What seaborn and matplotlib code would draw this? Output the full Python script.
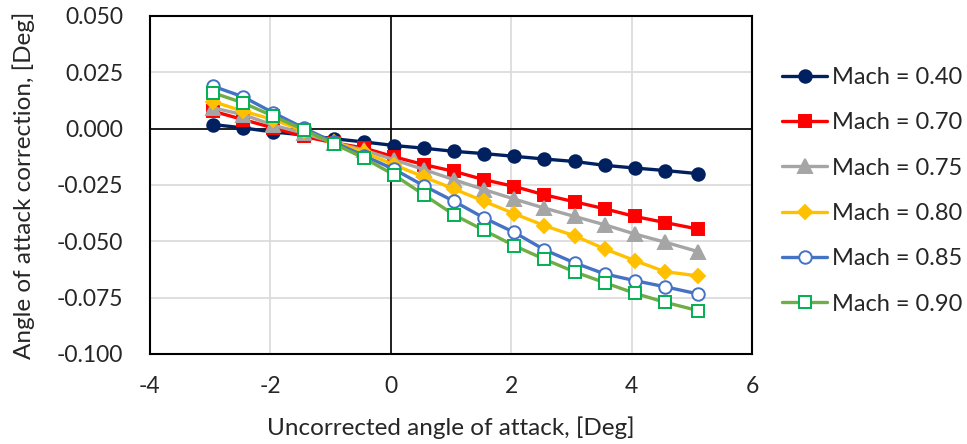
import pandas as pd
import matplotlib
matplotlib.use("Agg")
import matplotlib.pyplot as plt
import seaborn as sns

# uncorrected angle of attack [deg]
alpha = [-2.95, -2.45, -1.95, -1.45, -0.95, -0.45, 0.05, 0.55, 1.05,
         1.55, 2.05, 2.55, 3.05, 3.55, 4.05, 4.55, 5.1]

# angle of attack correction [deg], one list per Mach number
m040 = [0.0018, 0.0003, -0.0015, -0.0028, -0.0045, -0.0059, -0.0075, -0.0087, -0.0101,
        -0.0111, -0.0123, -0.0135, -0.0146, -0.0163, -0.0175, -0.0186, -0.0200]
m070 = [0.0077, 0.0040, 0.0003, -0.0034, -0.0063, -0.0086, -0.0125, -0.0160, -0.0190,
        -0.0227, -0.0257, -0.0294, -0.0325, -0.0356, -0.0390, -0.0417, -0.0446]
m075 = [0.0092, 0.0062, 0.0015, -0.0020, -0.0062, -0.0095, -0.0138, -0.0182, -0.0227,
        -0.0271, -0.0313, -0.0353, -0.0390, -0.0427, -0.0468, -0.0504, -0.0546]
m080 = [0.0120, 0.0077, 0.0040, -0.0010, -0.0058, -0.0105, -0.0160, -0.0215, -0.0268,
        -0.0323, -0.0378, -0.0431, -0.0476, -0.0534, -0.0586, -0.0635, -0.0654]
m085 = [0.0188, 0.0141, 0.0070, 0.0003, -0.0060, -0.0120, -0.0180, -0.0254, -0.0323,
        -0.0397, -0.0461, -0.0538, -0.0596, -0.0645, -0.0675, -0.0702, -0.0734]
m090 = [0.0159, 0.0114, 0.0055, -0.0004, -0.0067, -0.0130, -0.0205, -0.0294, -0.0383,
        -0.0452, -0.0520, -0.0580, -0.0636, -0.0684, -0.0731, -0.0771, -0.0808]

labels = ["Mach = 0.40", "Mach = 0.70", "Mach = 0.75",
          "Mach = 0.80", "Mach = 0.85", "Mach = 0.90"]

xticks = [-4, -2, 0, 2, 4, 6]
yticks = [-0.1, -0.075, -0.05, -0.025, 0.0, 0.025, 0.05]

sns.set_style("white")
plt.rcParams['font.family'] = ['Lato', 'DejaVu Sans']
plt.rcParams['axes.unicode_minus'] = False

fig = plt.figure(figsize=(9.67, 4.44), dpi=100)
ax = fig.add_axes([0.155, 0.203, 0.623, 0.761])

# (line colour, marker, marker face, marker edge, marker size)
styles = [
    ("#002060", "o", "#002060", "#002060", 9),
    ("#FF0000", "s", "#FF0000", "#FF0000", 9),
    ("#A5A5A5", "^", "#A5A5A5", "#A5A5A5", 9.5),
    ("#FFC000", "D", "#FFC000", "#FFC000", 7),
    ("#4472C4", "o", "white", "#4472C4", 9),
    ("#70AD47", "s", "white", "#00B050", 9),
]

for vals, lab, (c, m, fc, ec, ms) in zip([m040, m070, m075, m080, m085, m090], labels, styles):
    df = pd.DataFrame({"alpha": alpha, "corr": vals})
    sns.lineplot(data=df, x="alpha", y="corr", ax=ax, color=c, lw=2.4,
                 marker=m, markersize=ms, markerfacecolor=fc,
                 markeredgecolor=ec, markeredgewidth=1.4, label=lab, zorder=3)

ax.set_xlim(-4, 6)
ax.set_ylim(-0.1, 0.05)
ax.set_xticks(xticks)
ax.set_yticks(yticks)
ax.set_yticklabels([f"{v:.3f}" for v in yticks])
ax.set_xticklabels([str(v) for v in xticks])
ax.grid(True, color="#D9D9D9", lw=1.2)
ax.axhline(0, color="black", lw=1.2, zorder=2)
ax.axvline(0, color="black", lw=1.2, zorder=2)
for s in ax.spines.values():
    s.set_color("black")
    s.set_linewidth(1.5)
ax.tick_params(labelsize=16.5, length=0)
ax.tick_params(axis="x", pad=16)
ax.tick_params(axis="y", pad=19)
ax.set_xlabel("Uncorrected angle of attack, [Deg]", fontsize=17.5, labelpad=14)
ax.set_ylabel("Angle of attack correction, [Deg]", fontsize=17.5, labelpad=16)

h, l = ax.get_legend_handles_labels()
ax.legend_.remove()
fig.legend(h, l, loc="upper left", bbox_to_anchor=(0.809, 0.849), frameon=False,
           borderpad=0, borderaxespad=0, fontsize=17, labelspacing=1.03,
           handlelength=1.9, handletextpad=0.2)

fig.savefig("out.png", dpi=100)
